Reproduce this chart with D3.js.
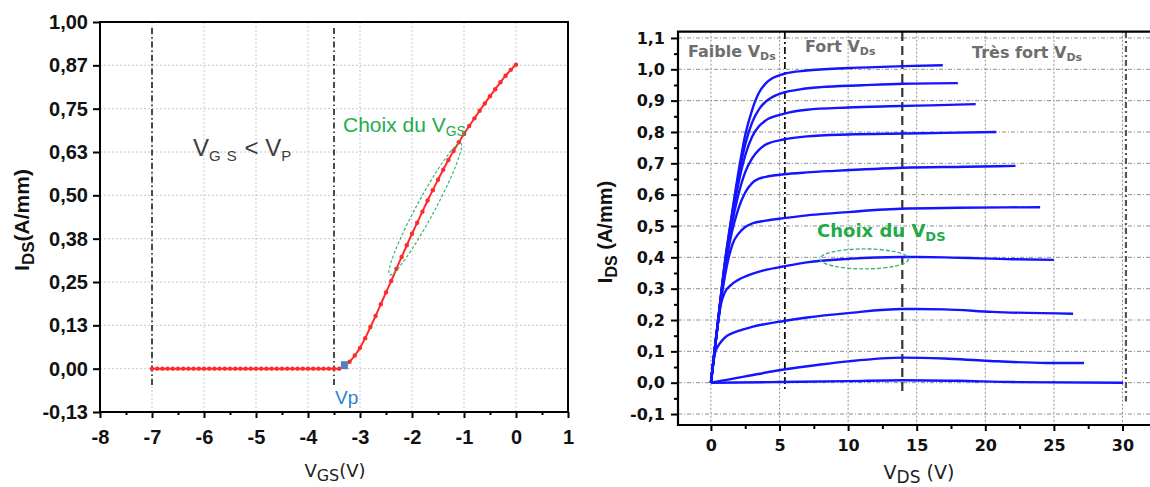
<!DOCTYPE html>
<html><head><meta charset="utf-8">
<script src="https://cdn.jsdelivr.net/npm/d3@7"></script>
<style>body{margin:0;background:#fff}svg{display:block}</style>
</head><body>
<svg id="c" width="1150" height="487"></svg>
<script>
// ---------- LEFT CHART DATA (transfer characteristic) ----------
const vgs = [-7.0,-6.9,-6.8,-6.7,-6.6,-6.5,-6.4,-6.3,-6.2,-6.1,-6.0,-5.9,-5.8,-5.7,-5.6,-5.5,-5.4,-5.3,-5.2,-5.1,
  -5.0,-4.9,-4.8,-4.7,-4.6,-4.5,-4.4,-4.3,-4.2,-4.1,-4.0,-3.9,-3.8,-3.7,-3.6,-3.5,-3.4,-3.3,-3.2,-3.1,
  -3.0,-2.9,-2.8,-2.7,-2.6,-2.5,-2.4,-2.3,-2.2,-2.1,-2.0,-1.9,-1.8,-1.7,-1.6,-1.5,-1.4,-1.3,-1.2,-1.1,
  -1.0,-0.9,-0.8,-0.7,-0.6,-0.5,-0.4,-0.3,-0.2,-0.1,0.0];
const idsTransfer = [0,0,0,0,0,0,0,0,0,0,0,0,0,0,0,0,0,0,0,0,
  0,0,0,0,0,0,0,0,0,0,0,0,0,0,0,0,0,0.008,0.020,0.038,
  0.060,0.088,0.120,0.152,0.186,0.220,0.253,0.288,0.322,0.356,0.389,0.421,0.453,0.485,0.515,0.545,0.574,0.602,0.628,0.653,
  0.677,0.700,0.722,0.744,0.765,0.786,0.806,0.826,0.845,0.862,0.877];
const vpPoint = [-3.3, 0.01];
const leftYTicks = [-0.125,0,0.125,0.25,0.375,0.5,0.625,0.75,0.875,1.0];
const leftYTickLabels = ["-0,13","0,00","0,13","0,25","0,38","0,50","0,63","0,75","0,87","1,00"];
const leftXTicks = [-8,-7,-6,-5,-4,-3,-2,-1,0,1];
const leftXMinor = [-7.5,-6.5,-5.5,-4.5,-3.5,-2.5,-1.5,-0.5,0.5];
const leftVLines = [-7, -3.5];
const leftEllipse = [[-2.41,0.276],[-1.08,0.646]];

// ---------- RIGHT CHART DATA (output characteristics) ----------
const outCurve1 = [[0,0],[0.5,0.19],[1.0,0.38],[1.5,0.53],[2.0,0.67],[2.5,0.79],[3.0,0.87],[3.5,0.925],[4.0,0.955],[4.5,0.972],[5.3,0.985],[7,0.996],[10,1.004],[14,1.01],[16.9,1.013]];
const outCurve2 = [[0,0],[0.5,0.19],[1.0,0.375],[1.5,0.525],[2.0,0.655],[2.5,0.76],[3.0,0.83],[3.5,0.872],[4.0,0.897],[4.5,0.912],[5.3,0.926],[6.5,0.936],[8,0.943],[11,0.949],[14,0.954],[18,0.956]];
const outCurve3 = [[0,0],[0.5,0.19],[1.0,0.37],[1.5,0.515],[2.0,0.635],[2.5,0.725],[3.0,0.785],[3.5,0.818],[4.0,0.837],[5.3,0.858],[7,0.871],[10,0.878],[13,0.882],[16,0.885],[19.3,0.889]];
const outCurve4 = [[0,0],[0.5,0.19],[1.0,0.365],[1.5,0.5],[2.0,0.6],[2.5,0.672],[3.0,0.716],[3.5,0.743],[4.0,0.76],[5.3,0.776],[7,0.786],[10,0.792],[14,0.795],[17,0.797],[20.8,0.8]];
const outCurve5 = [[0,0],[0.5,0.188],[1.0,0.355],[1.5,0.475],[2.0,0.555],[2.5,0.607],[3.0,0.637],[3.5,0.651],[4.0,0.657],[5.3,0.665],[7,0.671],[9,0.676],[14,0.686],[18.6,0.689],[22.2,0.692]];
const outCurve6 = [[0,0],[0.5,0.185],[1.0,0.335],[1.3,0.4],[1.6,0.445],[2.0,0.475],[2.5,0.497],[3.0,0.508],[4.0,0.517],[5.3,0.525],[7,0.534],[9,0.541],[13.8,0.555],[18,0.558],[24,0.56]];
const outCurve7 = [[0,0],[0.4,0.15],[0.7,0.245],[1.0,0.287],[1.5,0.313],[2.0,0.328],[3.0,0.347],[4.0,0.36],[5.3,0.371],[7,0.384],[10,0.395],[13.8,0.401],[17,0.4],[22,0.394],[25,0.392]];
const outCurve8 = [[0,0],[0.3,0.095],[0.6,0.122],[1.0,0.143],[2.0,0.165],[3.0,0.178],[5.3,0.197],[7,0.208],[10,0.222],[14,0.235],[17,0.234],[20.5,0.226],[26.4,0.22]];
const outCurve9 = [[0,0],[1.0,0.008],[2.5,0.02],[5.3,0.042],[8,0.058],[10,0.068],[14,0.08],[17,0.077],[20,0.07],[24.5,0.063],[27.2,0.063]];
const outCurve10 = [[0,0],[5,0.002],[10,0.005],[14,0.008],[18,0.006],[22,0.002],[30.05,0.0]];
const outCurves = [outCurve1,outCurve2,outCurve3,outCurve4,outCurve5,outCurve6,outCurve7,outCurve8,outCurve9,outCurve10];
const rightYTicks = [-0.1,0,0.1,0.2,0.3,0.4,0.5,0.6,0.7,0.8,0.9,1.0,1.1];
const rightYMinor = [-0.05,0.05,0.15,0.25,0.35,0.45,0.55,0.65,0.75,0.85,0.95,1.05];
const rightXTicks = [0,5,10,15,20,25,30];
const rightXMinor = [2.5,7.5,12.5,17.5,22.5,27.5,32.5];
const regionLines = [5.39, 13.95, 30.25];
const rightEllipse = {x0:7.95, x1:14.4, y:0.395};

// ---------- DRAW ----------
const svg = d3.select("#c");
const TICKFONT = "'Liberation Sans', Arial, sans-serif";
const DJ = "'DejaVu Sans', sans-serif";

function rich(g, x, y, parts, opt) {
  const t = g.append("text").attr("x", x).attr("y", y)
    .attr("font-family", opt.family).attr("font-size", opt.size)
    .attr("font-weight", opt.weight || "normal").attr("fill", opt.fill)
    .attr("text-anchor", opt.anchor || "start");
  if (opt.transform) t.attr("transform", opt.transform);
  let shift = 0;
  parts.forEach(p => {
    const ts = t.append("tspan").text(p.t);
    if (p.sub) {
      const d = opt.subShift; ts.attr("font-size", opt.subSize).attr("dy", d - shift); shift = d;
      if (p.ls) ts.attr("letter-spacing", p.ls);
    } else {
      ts.attr("dy", -shift); shift = 0;
    }
    if (p.fill) ts.attr("fill", p.fill);
  });
  return t;
}

// ===== Left chart =====
const xL = d3.scaleLinear().domain([-8, 1]).range([100, 568]);
const yL = d3.scaleLinear().domain([-0.125, 1.0]).range([412, 22]);
const gL = svg.append("g");

// grid
gL.append("g").selectAll("line").data(leftYTicks.slice(1, -1)).join("line")
  .attr("x1", 100).attr("x2", 568).attr("y1", d => yL(d)).attr("y2", d => yL(d))
  .attr("stroke", "#c8c8c8").attr("stroke-width", 1).attr("stroke-dasharray", "2,2");
gL.append("g").selectAll("line").data(leftXTicks.slice(1, -1)).join("line")
  .attr("y1", 22).attr("y2", 412).attr("x1", d => xL(d)).attr("x2", d => xL(d))
  .attr("stroke", "#c8c8c8").attr("stroke-width", 1).attr("stroke-dasharray", "2,2");

// vertical dash-dot lines
gL.append("g").selectAll("line").data(leftVLines).join("line")
  .attr("x1", d => xL(d)).attr("x2", d => xL(d)).attr("y1", 28).attr("y2", 388)
  .attr("stroke", "#111").attr("stroke-width", 1.5).attr("stroke-dasharray", "6,3,1.5,3");

// axes
const axL = gL.append("g").attr("transform", "translate(100,0)")
  .call(d3.axisLeft(yL).tickValues(leftYTicks).tickFormat((d, i) => leftYTickLabels[i]).tickSize(7).tickPadding(5));
const axB = gL.append("g").attr("transform", "translate(0,412)")
  .call(d3.axisBottom(xL).tickValues(leftXTicks).tickFormat(d3.format("d")).tickSize(6).tickPadding(12));
const axBm = gL.append("g").attr("transform", "translate(0,412)")
  .call(d3.axisBottom(xL).tickValues(leftXMinor).tickFormat("").tickSize(3));
[axL, axB, axBm].forEach(a => {
  a.select(".domain").remove();
  a.selectAll(".tick line").attr("stroke", "#000").attr("stroke-width", 2);
  a.selectAll("text").attr("font-family", TICKFONT).attr("font-weight", "bold").attr("font-size", 20).attr("fill", "#111");
});
axB.selectAll("text").text(d => d < 0 ? "-" + Math.abs(d) : d);
gL.append("rect").attr("x", 100).attr("y", 22).attr("width", 468).attr("height", 390)
  .attr("fill", "none").attr("stroke", "#000").attr("stroke-width", 2);

// curve
gL.append("path").datum(vgs.map((v, i) => [v, idsTransfer[i]]))
  .attr("d", d3.line().x(d => xL(d[0])).y(d => yL(d[1])).curve(d3.curveMonotoneX))
  .attr("fill", "none").attr("stroke", "#ff2a2a").attr("stroke-width", 2);
gL.append("g").selectAll("circle").data(vgs.map((v, i) => [v, idsTransfer[i]])).join("circle")
  .attr("cx", d => xL(d[0])).attr("cy", d => yL(d[1])).attr("r", 2.2).attr("fill", "#ff2a2a");
gL.append("rect").attr("x", xL(vpPoint[0]) - 3.5).attr("y", yL(vpPoint[1]) - 4).attr("width", 7).attr("height", 8)
  .attr("fill", "#4f81bd");

// ellipse (Choix du VGS)
{
  const p0 = [xL(leftEllipse[0][0]), yL(leftEllipse[0][1])], p1 = [xL(leftEllipse[1][0]), yL(leftEllipse[1][1])];
  const cx = (p0[0] + p1[0]) / 2, cy = (p0[1] + p1[1]) / 2;
  const len = Math.hypot(p1[0] - p0[0], p1[1] - p0[1]);
  const ang = Math.atan2(p1[1] - p0[1], p1[0] - p0[0]) * 180 / Math.PI;
  gL.append("ellipse").attr("cx", 0).attr("cy", 0).attr("rx", len / 2 + 2).attr("ry", 9)
    .attr("transform", `translate(${cx},${cy}) rotate(${ang})`)
    .attr("fill", "none").attr("stroke", "#3cb371").attr("stroke-width", 1.2).attr("stroke-dasharray", "3,2");
}

// annotations
rich(gL, 193, 156, [{t:"V"},{t:"G S",sub:true,ls:1},{t:" < V"},{t:"P",sub:true}],
  {family: TICKFONT, size: 24, subSize: 15, subShift: 5, fill: "#3d3d3d"});
rich(gL, 343, 132, [{t:"Choix du V"},{t:"GS",sub:true}],
  {family: TICKFONT, size: 21, subSize: 14, subShift: 4, fill: "#21ad4e"});
gL.append("text").attr("x", 335).attr("y", 404).text("Vp")
  .attr("font-family", TICKFONT).attr("font-size", 19).attr("fill", "#2a7fd0");

// labels
rich(gL, 0, 0, [{t:"I"},{t:"DS",sub:true},{t:"(A/mm)"}],
  {family: TICKFONT, size: 21, subSize: 17, subShift: 5, weight: "bold", fill: "#111", anchor: "middle",
   transform: "translate(29,220) rotate(-90)"});
rich(gL, 335, 477, [{t:"V"},{t:"GS",sub:true},{t:"(V)"}],
  {family: DJ, size: 18, subSize: 16, subShift: 4, fill: "#222", anchor: "middle"});

// ===== Right chart =====
const xR = d3.scaleLinear().domain([-2.4, 33.5]).range([678, 1170.5]);
const yR = d3.scaleLinear().domain([-0.135, 1.12]).range([425, 31.7]);
const gR = svg.append("g");

gR.append("g").selectAll("line").data(rightYTicks).join("line")
  .attr("x1", 678).attr("x2", 1150).attr("y1", d => yR(d)).attr("y2", d => yR(d))
  .attr("stroke", "#8f8f8f").attr("stroke-width", 1).attr("stroke-dasharray", "4,2,1,2");
gR.append("g").selectAll("line").data(rightXTicks).join("line")
  .attr("y1", 31.7).attr("y2", 425).attr("x1", d => xR(d)).attr("x2", d => xR(d))
  .attr("stroke", "#8f8f8f").attr("stroke-width", 1).attr("stroke-dasharray", "2,2");

// region lines
const rStyles = [
  {c: "#111", w: 1.8, dash: "7,3,2,3", y2: -0.02},
  {c: "#333", w: 2.2, dash: "9,5", y2: -0.035},
  {c: "#555", w: 2.2, dash: "6,3,2,3", y2: -0.06}
];
gR.append("g").selectAll("line").data(regionLines).join("line")
  .attr("x1", d => xR(d)).attr("x2", d => xR(d)).attr("y1", 32)
  .attr("y2", (d, i) => yR(rStyles[i].y2))
  .attr("stroke", (d, i) => rStyles[i].c).attr("stroke-width", (d, i) => rStyles[i].w)
  .attr("stroke-dasharray", (d, i) => rStyles[i].dash);

// curves
const lineR = d3.line().x(d => xR(d[0])).y(d => yR(d[1])).curve(d3.curveMonotoneX);
gR.append("g").selectAll("path").data(outCurves).join("path")
  .attr("d", lineR).attr("fill", "none").attr("stroke", "#1414ff").attr("stroke-width", 2.4);

// axes
const fmtR = d => d3.format(".1f")(d).replace(".", ",").replace("−", "-");
const ayR = gR.append("g").attr("transform", "translate(678,0)")
  .call(d3.axisLeft(yR).tickValues(rightYTicks).tickFormat(fmtR).tickSize(7).tickPadding(6));
const ayRm = gR.append("g").attr("transform", "translate(678,0)")
  .call(d3.axisLeft(yR).tickValues(rightYMinor).tickFormat("").tickSize(4));
const axR = gR.append("g").attr("transform", "translate(0,425)")
  .call(d3.axisBottom(xR).tickValues(rightXTicks).tickFormat(d3.format("d")).tickSize(6).tickPadding(9));
const axRm = gR.append("g").attr("transform", "translate(0,425)")
  .call(d3.axisBottom(xR).tickValues(rightXMinor).tickFormat("").tickSize(4));
[ayR, ayRm, axR, axRm].forEach(a => {
  a.select(".domain").remove();
  a.selectAll(".tick line").attr("stroke", "#000").attr("stroke-width", 2);
  a.selectAll("text").attr("font-family", DJ).attr("font-weight", "bold").attr("font-size", 16).attr("fill", "#111");
});
gR.append("path").attr("d", "M1160,31.7 H678 V425 H1160")
  .attr("fill", "none").attr("stroke", "#000").attr("stroke-width", 2.2);

// ellipse
gR.append("ellipse").attr("cx", (xR(rightEllipse.x0) + xR(rightEllipse.x1)) / 2).attr("cy", yR(rightEllipse.y))
  .attr("rx", (xR(rightEllipse.x1) - xR(rightEllipse.x0)) / 2).attr("ry", 10)
  .attr("fill", "none").attr("stroke", "#3cb371").attr("stroke-width", 1.4).attr("stroke-dasharray", "4,2");

// annotations
const grayOpt = {family: DJ, size: 16, subSize: 11, subShift: 3, weight: "bold", fill: "#6e6e6e"};
rich(gR, 688, 57, [{t:"Faible V"},{t:"Ds",sub:true}], grayOpt);
rich(gR, 805, 52, [{t:"Fort V"},{t:"Ds",sub:true}], grayOpt);
rich(gR, 972, 58, [{t:"Très fort V"},{t:"Ds",sub:true}], grayOpt);
rich(gR, 817, 237, [{t:"Choix du V"},{t:"DS",sub:true}],
  {family: DJ, size: 18, subSize: 13, subShift: 4, weight: "bold", fill: "#22aa48"});

// labels
rich(gR, 0, 0, [{t:"I"},{t:"DS",sub:true},{t:" (A/mm)"}],
  {family: TICKFONT, size: 20, subSize: 16, subShift: 5, weight: "bold", fill: "#111", anchor: "middle",
   transform: "translate(612,232) rotate(-90)"});
rich(gR, 919, 479, [{t:"V"},{t:"DS",sub:true},{t:" (V)"}],
  {family: DJ, size: 19, subSize: 17, subShift: 4, fill: "#222", anchor: "middle"});
</script>
</body></html>
